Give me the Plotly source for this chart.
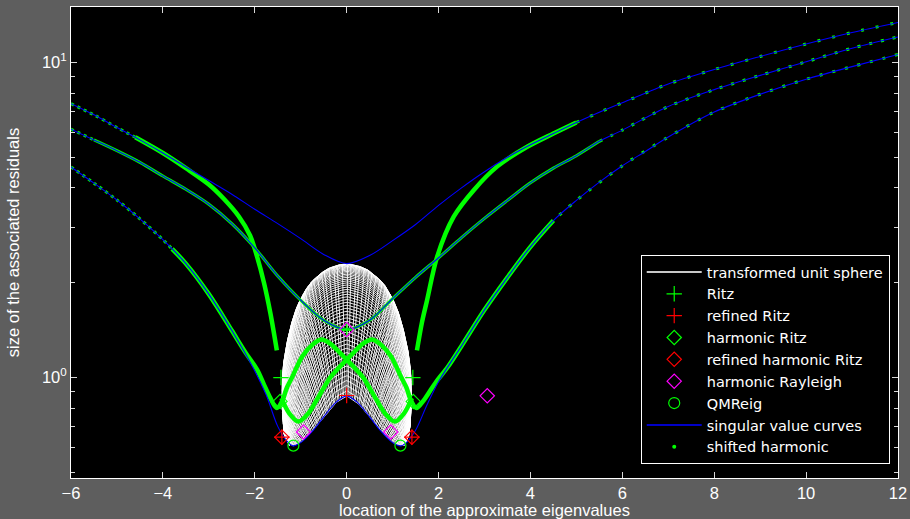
import numpy as np
import plotly.graph_objects as go

GREEN = '#00ff00'
BLUE = '#0000ff'
RED = '#ff0000'
MAG = '#ff00ff'
FONT = 'Liberation Sans'
LFONT = 'DejaVu Sans'

# ---------------- singular value curves ----------------
top_x = [-6, -5.5, -5.0, -4.5, -4.0, -3.5, -3.0, -2.5, -2.0, -1.5, -1.0, -0.5, 0.0,
         0.5, 1.0, 1.5, 2.0, 2.5, 3.0, 3.5, 4.0, 4.5, 5.0, 5.5, 6.0, 7.0, 8.0, 9.0, 10.0, 11.0, 12.0]
top_y = [7.40, 6.82, 6.22, 5.68, 5.16, 4.66, 4.22, 3.82, 3.42, 3.08, 2.76, 2.46, 2.30,
         2.44, 2.72, 3.06, 3.52, 4.00, 4.50, 5.00, 5.48, 5.95, 6.45, 6.95, 7.45, 8.55, 9.50, 10.45, 11.45,
         12.45, 13.4]

mid_x = [-6, -5.5, -5.0, -4.5, -4.0, -3.5, -3.0, -2.5, -2.0, -1.5, -1.0, -0.5, 0.0,
         0.5, 1.0, 1.5, 2.0, 2.5, 3.0, 3.5, 4.0, 4.5, 5.0, 5.5, 6.0, 7.0, 8.0, 9.0, 10.0, 11.0, 12.0]
mid_y = [6.14, 5.68, 5.25, 4.82, 4.36, 3.96, 3.55, 3.08, 2.58, 2.10, 1.76, 1.52, 1.42,
         1.52, 1.78, 2.08, 2.40, 2.78, 3.20, 3.65, 4.15, 4.62, 5.06, 5.62, 6.10, 7.25, 8.20, 9.10, 10.05,
         11.1, 12.05]

bot_x = [-6, -5.5, -5.0, -4.5, -4.0, -3.5, -3.0, -2.5, -2.0, -1.75, -1.5, -1.3, -1.17, -1.0, -0.75, -0.5,
         -0.25, 0.0, 0.25, 0.5, 0.75, 1.0, 1.17, 1.3, 1.5, 1.75, 2.0, 2.5, 3.0, 3.5, 4.0, 4.5, 5.0, 5.5,
         6.0, 6.5, 7.0, 8.0, 9.0, 10.0, 11.0, 12.0]
bot_y = [4.66, 4.14, 3.66, 3.19, 2.74, 2.30, 1.84, 1.41, 1.05, 0.88, 0.70, 0.628, 0.607, 0.622, 0.675, 0.75,
         0.83, 0.875, 0.83, 0.75, 0.675, 0.622, 0.607, 0.622, 0.68, 0.82, 0.97, 1.26, 1.64, 2.08, 2.60, 3.15,
         3.65, 4.17, 4.70, 5.22, 5.80, 6.96, 7.93, 8.85, 9.70, 10.6]

# ---------------- shifted harmonic branches ----------------
ga_dot_x = [-6, -5.5, -5.0, -4.6]
ga_dot_y = [7.40, 6.82, 6.22, 5.79]
ga_x = [-4.6, -4.0, -3.5, -3.0, -2.68, -2.35, -2.1, -1.95, -1.8, -1.66, -1.52]
ga_y = [5.79, 5.16, 4.62, 4.10, 3.70, 3.25, 2.82, 2.42, 2.00, 1.60, 1.22]

gb_x = [1.53, 1.64, 1.75, 1.97, 2.33, 2.77, 3.28, 3.93, 4.5, 5.0]
gb_y = [1.22, 1.50, 1.76, 2.42, 3.24, 3.94, 4.68, 5.40, 5.95, 6.45]
gb_dot_x = [5.0, 5.5, 6.0, 7.0, 8.0, 9.0, 10.0, 11.0, 12.0]
gb_dot_y = [6.45, 6.95, 7.45, 8.55, 9.50, 10.45, 11.45, 12.45, 13.4]

ca_dot_x = [-6, -5.5, -5.0, -4.5, -4.0, -3.8]
ca_dot_y = [4.66, 4.14, 3.66, 3.19, 2.74, 2.56]
ca_x = [-3.8, -3.5, -3.0, -2.5, -2.2, -1.95, -1.8, -1.66, -1.52, -1.40, -1.30, -1.19, -0.97,
        -0.75, -0.55, -0.35, -0.15, 0.0, 0.18, 0.36, 0.65, 0.85, 1.05, 1.25, 1.42]
ca_y = [2.56, 2.30, 1.84, 1.41, 1.20, 1.06, 0.95, 0.86, 0.80, 0.845, 0.93, 1.00, 1.165,
        1.27, 1.32, 1.28, 1.20, 1.14, 1.07, 1.00, 0.85, 0.765, 0.725, 0.77, 0.86]

cr_dot_x = [12.0, 11.0, 10.0, 9.0, 8.0, 7.0, 6.0, 5.0, 4.5]
cr_dot_y = [10.6, 9.70, 8.85, 7.93, 6.96, 5.80, 4.70, 3.65, 3.15]
cr_x = [4.5, 4.0, 3.5, 3.0, 2.5, 2.2, 1.95, 1.8, 1.66, 1.52, 1.40, 1.30, 1.19, 0.97,
        0.75, 0.55, 0.35, 0.15, 0.0, -0.18, -0.36, -0.65, -0.85, -1.05, -1.25, -1.42]
cr_y = [3.15, 2.60, 2.08, 1.64, 1.26, 1.08, 0.97, 0.90, 0.84, 0.80, 0.845, 0.93, 1.00, 1.165,
        1.27, 1.32, 1.28, 1.20, 1.14, 1.07, 1.00, 0.85, 0.765, 0.725, 0.77, 0.86]

# ---------------- markers ----------------
ritz_x, ritz_y = [-1.43, 1.44, 0.0], [1.0, 1.0, 1.42]
rritz_x, rritz_y = [-1.41, 0.0, 1.42], [0.647, 0.877, 0.647]
hritz_x, hritz_y = [-1.45, 1.45], [0.84, 0.84]
rhritz_x, rhritz_y = [-1.41, 1.42], [0.647, 0.647]
hray_x, hray_y = [-0.94, 0.96, 0.0, 3.06], [0.672, 0.672, 1.42, 0.875]
qmr_x, qmr_y = [-1.16, 1.17], [0.608, 0.608]

# ---------------- transformed unit sphere: boundaries ----------------
env_x = [-1.25, -1.36, -1.40, -1.41, -1.39, -1.34, -1.27, -1.18, -1.08, -0.95, -0.80, -0.62, -0.43, -0.22, 0.0]
env_y = [0.61, 0.66, 0.76, 0.90, 1.06, 1.20, 1.35, 1.52, 1.68, 1.84, 1.99, 2.11, 2.21, 2.27, 2.30]
inn_x = [-1.25, -1.17, -1.0, -0.75, -0.5, -0.25, 0.0]
inn_y = [0.615, 0.607, 0.622, 0.675, 0.75, 0.83, 0.875]
n_arches = 50
n_spokes = 90

XR = [-6, 12]
YR = [0.48, 15.0]


def full_arc(hx, hy):
    x = list(hx) + [-v for v in reversed(hx[:-1])]
    y = list(hy) + list(reversed(hy[:-1]))
    return np.array(x, float), np.log10(np.array(y, float))


def resample(x, ly, n):
    d = np.hypot(np.diff(x) / 18 * 827, np.diff(ly) / 1.5 * 471)
    c = np.concatenate([[0], np.cumsum(d)])
    c /= c[-1]
    t = np.linspace(0, 1, n)
    return np.interp(t, c, x), np.interp(t, c, ly)


ox, oly = resample(*full_arc(env_x, env_y), 240)
ix, ily = resample(*full_arc(inn_x, inn_y), 240)
mx, my = [], []
for k in range(n_arches + 1):
    s = 1 - (1 - k / n_arches) ** 2.0
    mx += list((1 - s) * ix + s * ox) + [None]
    my += list(10 ** ((1 - s) * ily + s * oly)) + [None]
sv = np.linspace(0, 1, 30)
for j in range(n_spokes + 1):
    i = int(round(j / n_spokes * 239))
    mx += list((1 - sv) * ix[i] + sv * ox[i]) + [None]
    my += list(10 ** ((1 - sv) * ily[i] + sv * oly[i])) + [None]

fig = go.Figure()
fig.add_trace(go.Scatter(x=mx, y=my, mode='lines', line=dict(color='white', width=0.9),
                         showlegend=False, hoverinfo='skip'))


def curve(x, y, color, width, dash=None):
    return go.Scatter(x=x, y=y, mode='lines', showlegend=False, hoverinfo='skip',
                      line=dict(color=color, width=width, dash=dash, shape='spline', smoothing=0.9))


DOT = '3px,4px'
# green (shifted harmonic) curves
fig.add_trace(curve(ga_dot_x, ga_dot_y, GREEN, 3, DOT))
fig.add_trace(curve(ga_x, ga_y, GREEN, 4.5))
fig.add_trace(curve(gb_x, gb_y, GREEN, 4.5))
fig.add_trace(curve(gb_dot_x, gb_dot_y, GREEN, 3, '3px,12px'))
fig.add_trace(curve(mid_x[:2], mid_y[:2], GREEN, 3, DOT))
fig.add_trace(curve(mid_x[1:-7], mid_y[1:-7], GREEN, 3))
fig.add_trace(curve(mid_x[-8:], mid_y[-8:], GREEN, 3, '3px,9px'))
fig.add_trace(curve(ca_dot_x, ca_dot_y, GREEN, 3, DOT))
fig.add_trace(curve(ca_x, ca_y, GREEN, 4.5))
fig.add_trace(curve(cr_dot_x, cr_dot_y, GREEN, 3, '3px,10px'))
fig.add_trace(curve(cr_x, cr_y, GREEN, 4.5))
# singular value curves
for cx, cy in ((top_x, top_y), (mid_x, mid_y), (bot_x, bot_y)):
    fig.add_trace(curve(cx, cy, BLUE, 1.1))


def marks(x, y, symbol, color, size, name=None, lw=1.2):
    return go.Scatter(x=x, y=y, mode='markers', name=name, showlegend=name is not None,
                      hoverinfo='skip',
                      marker=dict(symbol=symbol, color=color, size=size, line=dict(color=color, width=lw)))


fig.add_trace(marks(hritz_x, hritz_y, 'diamond-open', GREEN, 11))
fig.add_trace(marks(ritz_x, ritz_y, 'cross-thin', GREEN, 11))
fig.add_trace(marks(rhritz_x, rhritz_y, 'diamond-open', RED, 11))
fig.add_trace(marks(rritz_x, rritz_y, 'cross-thin', RED, 11))
fig.add_trace(marks(hray_x, hray_y, 'diamond-open', MAG, 11))
fig.add_trace(marks(qmr_x, qmr_y, 'circle-open', GREEN, 11))

# legend entries
fig.add_trace(go.Scatter(x=[None], y=[None], mode='lines', name='transformed unit sphere',
                         line=dict(color='#c8c8c8', width=2)))
fig.add_trace(marks([None], [None], 'cross-thin', GREEN, 11, 'Ritz'))
fig.add_trace(marks([None], [None], 'cross-thin', RED, 11, 'refined Ritz'))
fig.add_trace(marks([None], [None], 'diamond-open', GREEN, 11, 'harmonic Ritz'))
fig.add_trace(marks([None], [None], 'diamond-open', RED, 11, 'refined harmonic Ritz'))
fig.add_trace(marks([None], [None], 'diamond-open', MAG, 11, 'harmonic Rayleigh'))
fig.add_trace(marks([None], [None], 'circle-open', GREEN, 11, 'QMReig'))
fig.add_trace(go.Scatter(x=[None], y=[None], mode='lines', name='singular value curves',
                         line=dict(color='#0000c8', width=2)))
fig.add_trace(go.Scatter(x=[None], y=[None], mode='markers', name='shifted harmonic',
                         marker=dict(color=GREEN, size=4)))

axis_common = dict(showline=True, linecolor='white', linewidth=1, mirror='allticks', ticks='inside',
                   ticklen=6, tickcolor='#d8d8d8', showgrid=False, zeroline=False, automargin=False,
                   tickfont=dict(family=FONT, size=16.5, color='white'))

fig.update_layout(
    width=910, height=519,
    margin=dict(l=71, r=12, t=7, b=41),
    paper_bgcolor='#5e5e5e', plot_bgcolor='black',
    font=dict(family=FONT, size=16.5, color='white'),
    xaxis=dict(range=XR, tickvals=list(range(-6, 13, 2)),
               title=dict(text='location of the approximate eigenvalues', standoff=3,
                          font=dict(family=FONT, size=16.5, color='white')),
               **axis_common),
    yaxis=dict(type='log', range=[np.log10(YR[0]), np.log10(YR[1])], tickvals=[1, 10],
               ticktext=['10<sup>0</sup>', '10<sup>1</sup>'],
               minor=dict(tickvals=[0.5, 0.6, 0.7, 0.8, 0.9, 2, 3, 4, 5, 6, 7, 8, 9], ticks='inside',
                          ticklen=4, tickcolor='#d8d8d8'),
               title=dict(text='size of the associated residuals', standoff=18,
                          font=dict(family=FONT, size=16.5, color='white')),
               **axis_common),
    legend=dict(x=0.990, y=0.0297, xanchor='right', yanchor='bottom', bgcolor='black',
                bordercolor='white', borderwidth=1, itemwidth=55, tracegroupgap=0,
                font=dict(family=LFONT, size=14.5, color='white')),
    showlegend=True,
)

fig.write_html('out.html')
